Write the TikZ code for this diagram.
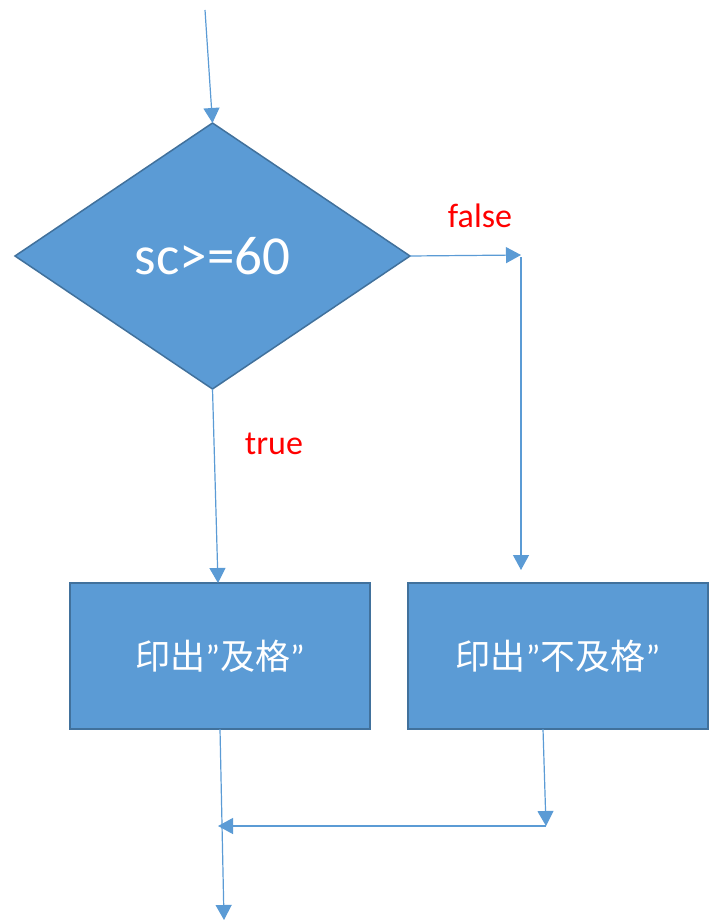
\documentclass[tikz,border=0pt]{standalone}
\usepackage{fontspec}
\setmainfont{Carlito}
\newfontfamily\cjk{Noto Sans CJK TC}
\usetikzlibrary{shapes.geometric,arrows.meta}
\definecolor{fillblue}{HTML}{5B9BD5}
\definecolor{edgeblue}{HTML}{41719C}
\newcommand{\myrquote}{{\rmfamily ”}}
\tikzset{
  conn/.style={draw=fillblue, line width=1.2pt, -{Triangle[length=15pt,width=16pt]}},
  procbox/.style={rectangle, fill=fillblue, draw=edgeblue, line width=2pt, minimum width=300pt, minimum height=146pt, inner sep=0pt, outer sep=0pt, text=white, font=\cjk\fontsize{35}{40}\selectfont},
  decide/.style={diamond, fill=fillblue, draw=edgeblue, line width=1.5pt, minimum width=395pt, minimum height=266pt, inner sep=0pt, outer sep=0pt, text=white, font=\fontsize{55}{60}\selectfont},
  lbl/.style={text=red, font=\fontsize{34}{38}\selectfont, inner sep=0pt}
}
\begin{document}
\begin{tikzpicture}[x=1pt,y=-1pt]
\useasboundingbox (0,0) rectangle (709,923);
\node[decide] (d) at (212.5,256) {sc>=60};
\node[procbox] (b1) at (220,656) {印出\myrquote 及格\myrquote};
\node[procbox] (b2) at (558,656) {印出\myrquote 不及格\myrquote};
\coordinate (top) at (205,10);
\coordinate (fx) at (521,255);
\coordinate (m) at (546,826);
\coordinate (j) at (218,826);
\coordinate (end) at (224,920);
\draw[conn] (top) -- (d.north);
\draw[conn] (d.east) -- (fx);
\draw[conn] ([yshift=-2pt]fx) -- ([yshift=13pt]fx |- b2.north);
\draw[conn] (d.south) -- ([xshift=-2pt]b1.north);
\draw[conn] (b1.south) -- (end);
\draw[conn] ([xshift=-15pt]b2.south) -- (m);
\draw[conn] (m) -- (j);
\node[lbl] (f) at (480,216) {false};
\node[lbl] (t) at (274,444) {true};
\end{tikzpicture}
\end{document}
